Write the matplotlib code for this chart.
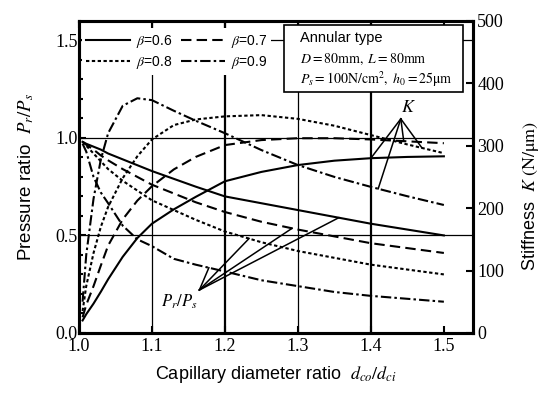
import matplotlib
matplotlib.use("Agg")
import matplotlib.pyplot as plt
from matplotlib.lines import Line2D
from matplotlib.patches import Rectangle
import numpy as np

plt.rcParams['font.family'] = ['Liberation Sans', 'DejaVu Sans']
plt.rcParams['mathtext.fontset'] = 'stix'

# capillary diameter ratio d_co/d_ci
x = [1.005, 1.01, 1.02, 1.03, 1.04, 1.06, 1.08, 1.10, 1.13, 1.16, 1.20,
     1.25, 1.30, 1.35, 1.40, 1.45, 1.50]

# pressure ratio Pr/Ps (left axis)
p_06 = [0.98, 0.97, 0.955, 0.94, 0.92, 0.89, 0.86, 0.83, 0.79, 0.75, 0.70,
        0.665, 0.63, 0.595, 0.56, 0.53, 0.50]
p_07 = [0.98, 0.965, 0.94, 0.91, 0.885, 0.84, 0.80, 0.76, 0.715, 0.67, 0.62,
        0.57, 0.53, 0.495, 0.46, 0.435, 0.41]
p_08 = [0.98, 0.96, 0.92, 0.88, 0.84, 0.78, 0.73, 0.68, 0.63, 0.58, 0.52,
        0.465, 0.42, 0.385, 0.35, 0.325, 0.30]
p_09 = [0.97, 0.93, 0.80, 0.72, 0.665, 0.55, 0.48, 0.445, 0.38, 0.35, 0.315,
        0.27, 0.24, 0.21, 0.19, 0.175, 0.16]

# stiffness K (N/um) (right axis)
k_06 = [20, 30, 47, 66, 86, 122, 152, 175, 198, 218, 243,
        258, 269, 276, 280, 282, 283]
k_07 = [25, 45, 75, 108, 140, 182, 212, 235, 262, 282, 301,
        309, 312, 312, 310, 307, 304]
k_08 = [35, 75, 128, 170, 202, 248, 283, 310, 333, 342, 347,
        349, 343, 332, 317, 302, 288]
k_09 = [50, 125, 215, 278, 320, 364, 376, 373, 356, 340, 320,
        293, 269, 250, 234, 219, 205]

betas = ['0.6', '0.7', '0.8', '0.9']
p_series = [p_06, p_07, p_08, p_09]
k_series = [k_06, k_07, k_08, k_09]
dashes = [None, (5, 2.5), (1.6, 1.2), (5, 1.5, 1.2, 1.5)]

fig = plt.figure(figsize=(5.52, 3.94), dpi=100)
ax = fig.add_axes([0.143, 0.155, 0.714, 0.792])
ax2 = ax.twinx()

ax.set_xlim(1.0, 1.54)
ax.set_ylim(0, 1.6)
ax2.set_ylim(0, 500)

# grid
for gx, w in [(1.1, 0.9), (1.2, 1.6), (1.3, 0.9), (1.4, 1.6)]:
    ax.axvline(gx, color='black', lw=w, zorder=1)
for gy in [0.5, 1.0, 1.5]:
    ax.axhline(gy, color='black', lw=0.9, zorder=1)

handles = []
for b, p, k, d in zip(betas, p_series, k_series, dashes):
    kw = dict(color='black', lw=1.5)
    if d is not None:
        kw['dashes'] = d
    ax.plot(x, p, zorder=3, **kw)
    ax2.plot(x, k, zorder=3, **kw)
    handles.append(Line2D([], [], label=r'$\beta$=' + b, **kw))

ax.set_xticks([1.0, 1.1, 1.2, 1.3, 1.4, 1.5])
ax.set_xticklabels(['1.0', '1.1', '1.2', '1.3', '1.4', '1.5'])
ax.set_yticks([0.0, 0.5, 1.0, 1.5])
ax.set_yticklabels(['0.0', '0.5', '1.0', '1.5'])
ax.set_yticks(np.arange(0, 1.6, 0.1), minor=True)
ax2.set_yticks([0, 100, 200, 300, 400, 500])

ax.tick_params(axis='both', which='both', direction='in', labelsize=13,
               labelfontfamily='Liberation Serif', width=1.5)
ax.tick_params(axis='x', top=True, length=5, pad=4)
ax.tick_params(axis='y', which='major', length=5, pad=1)
ax.tick_params(axis='y', which='minor', length=3)
ax2.tick_params(axis='y', direction='in', labelsize=13, length=5, width=1.5,
                labelfontfamily='Liberation Serif', pad=3)

for a in (ax, ax2):
    for s in a.spines.values():
        s.set_linewidth(2.2)

ax.set_xlabel(r'Capillary diameter ratio  $d_{co}/d_{ci}$', fontsize=13)
ax.set_ylabel(r'Pressure ratio  $P_r/P_s$', fontsize=13.5)
ax2.set_ylabel(r'Stiffness  $K\ \mathrm{(N/μm)}$', fontsize=13)
ax.xaxis.set_label_coords(0.5, -0.1)
ax.yaxis.set_label_coords(-0.11, 0.5)
ax2.yaxis.set_label_coords(1.12, 0.44)

# column-wise fill: 0.6/0.8 in first column, 0.7/0.9 in second
leg_handles = [handles[0], handles[2], handles[1], handles[3]]
leg = ax2.legend(handles=leg_handles, ncol=2, loc='upper left',
                 bbox_to_anchor=(0.0, 0.985), fontsize=10, frameon=True,
                 handlelength=3.2, columnspacing=0.6, handletextpad=0.4,
                 labelspacing=0.3, borderpad=0.3, borderaxespad=0.2)
leg.get_frame().set_edgecolor('none')
leg.get_frame().set_facecolor('white')
leg.get_frame().set_alpha(1)
leg.set_zorder(6)

# condition box
ax2.add_patch(Rectangle((0.52, 0.772), 0.455, 0.215, transform=ax2.transAxes,
                        facecolor='white', edgecolor='black', lw=1.2, zorder=5))
ax2.text(0.56, 0.945, 'Annular type', transform=ax2.transAxes, fontsize=10.5,
         va='center', zorder=7)
ax2.text(0.56, 0.878, r'$D\mathrm{=80mm,}\ L\mathrm{=80mm}$',
         transform=ax2.transAxes, fontsize=10, va='center', zorder=7)
ax2.text(0.56, 0.813, r'$P_s\mathrm{=100N/cm^2,}\ h_0\mathrm{=25μm}$',
         transform=ax2.transAxes, fontsize=10, va='center', zorder=7)

# K pointer
kx0, ky0 = 1.441, 343
for kser, px in [(k_06, 1.40), (k_09, 1.41), (k_07, 1.445), (k_08, 1.47)]:
    ax2.plot([kx0, px], [ky0, np.interp(px, x, kser)], color='black', lw=1.1,
             zorder=4)
ax2.text(1.452, 347, '$K$', fontsize=13, ha='center', va='bottom', zorder=4)

# Pr/Ps pointer
px0, py0 = 1.165, 0.22
for pser, qx in [(p_09, 1.178), (p_08, 1.233), (p_07, 1.292), (p_06, 1.356)]:
    ax.plot([px0, qx], [py0, np.interp(qx, x, pser)], color='black', lw=1.1,
            zorder=4)
ax.text(1.138, 0.205, '$P_r/P_s$', fontsize=12, ha='center', va='top',
        zorder=4)

fig.savefig('out.png', dpi=100)
